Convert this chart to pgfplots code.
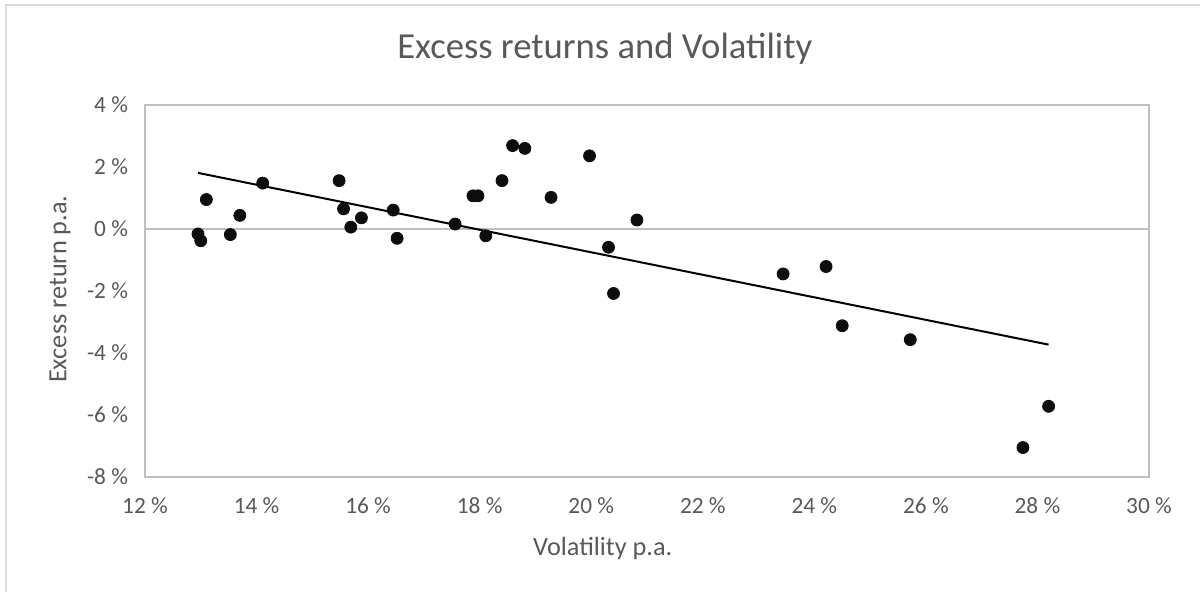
\documentclass[border=0pt]{standalone}
\usepackage{pgfplots}
\pgfplotsset{compat=1.18}
\usepackage{fontspec}
\setmainfont{Carlito}
\definecolor{txt}{HTML}{595959}
\definecolor{ax}{HTML}{BFBFBF}
\definecolor{frame}{HTML}{D9D9D9}
\begin{document}
\begin{tikzpicture}
\useasboundingbox (0,0) rectangle (600bp,296bp);
\draw[frame, line width=0.75bp] (3bp,0) -- (3bp,293.5bp) -- (600bp,293.5bp);
\begin{axis}[
  at={(72.5bp,57.5bp)}, anchor=south west,
  scale only axis, width=502bp, height=186bp,
  xmin=12, xmax=30, ymin=-8, ymax=4,
  xtick={12,14,...,30},
  xticklabels={12 \%,14 \%,16 \%,18 \%,20 \%,22 \%,24 \%,26 \%,28 \%,30 \%},
  ytick={-8,-6,...,4},
  yticklabels={-8 \%,-6 \%,-4 \%,-2 \%,0 \%,2 \%,4 \%},
  major tick length=0pt,
  axis line style={ax, line width=0.75bp},
  tick label style={font=\fontsize{11.7}{13}\selectfont, text=txt},
  xticklabel style={yshift=-7bp},
  yticklabel style={xshift=-5bp},
  extra y ticks={0}, extra y tick labels={},
  extra y tick style={grid=major, major grid style={ax, line width=0.9bp}},
  title={Excess returns and Volatility},
  title style={font=\fontsize{18.4}{22}\selectfont, text=txt, at={(rel axis cs:0.458,1.12)}, anchor=center},
  xlabel={Volatility p.a.},
  xlabel style={font=\fontsize{13.2}{15}\selectfont, text=txt, at={(rel axis cs:0.456,-0.191)}, anchor=center},
  ylabel={Excess return p.a.},
  ylabel style={font=\fontsize{13.2}{15}\selectfont, text=txt, at={(rel axis cs:-0.0847,0.505)}, anchor=center, rotate=0},
  clip=false,
]
\addplot[only marks, mark=*, mark size=3bp, mark options={fill=black!95, draw=black!95}] table {
x y
12.95 -0.16
13.00 -0.38
13.10 0.95
13.53 -0.18
13.70 0.44
14.11 1.48
15.48 1.56
15.56 0.65
15.69 0.06
15.88 0.36
16.45 0.61
16.52 -0.30
17.56 0.16
17.88 1.07
17.97 1.07
18.11 -0.22
18.40 1.56
18.59 2.69
18.81 2.60
19.28 1.02
19.97 2.36
20.31 -0.59
20.40 -2.08
20.82 0.29
23.44 -1.45
24.21 -1.21
24.50 -3.12
25.72 -3.57
27.74 -7.05
28.20 -5.72
};
\addplot[black, line width=1bp] coordinates {(12.95,1.81) (28.20,-3.73)};
\end{axis}
\end{tikzpicture}
\end{document}
